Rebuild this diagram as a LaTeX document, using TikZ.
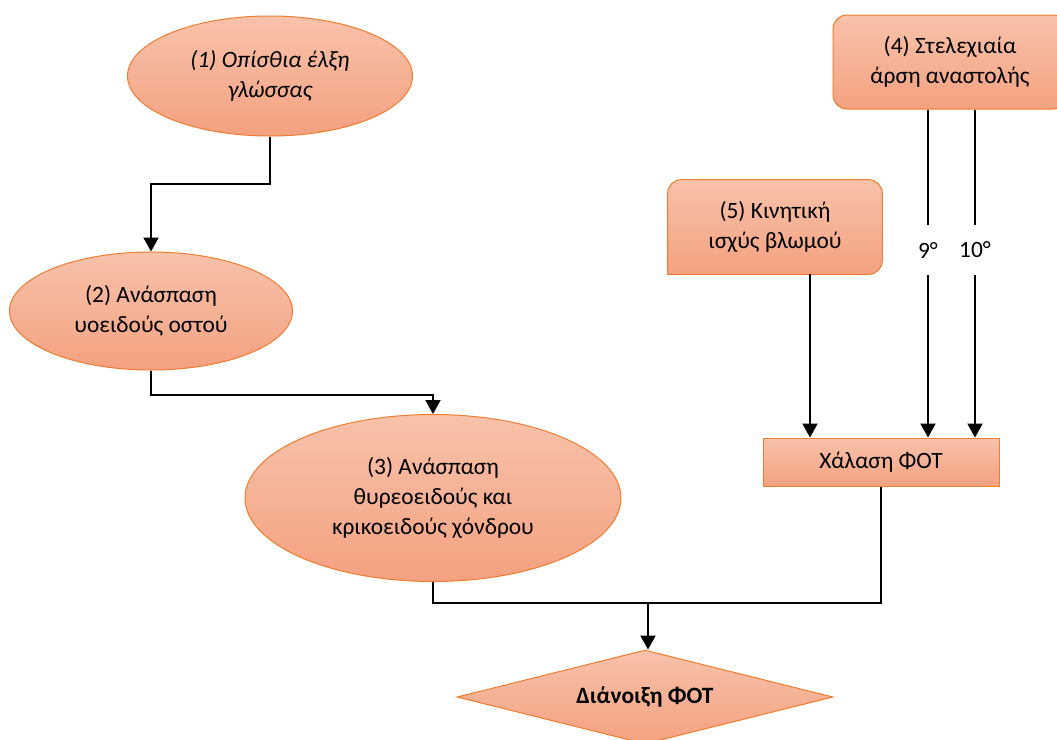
\documentclass[tikz,border=0pt]{standalone}
\usepackage{fontspec}
\setmainfont{Carlito}
\usetikzlibrary{shapes.geometric,arrows.meta,backgrounds}
\definecolor{rim}{RGB}{237,125,49}
\definecolor{lite}{RGB}{248,194,170}
\definecolor{dark}{RGB}{244,161,128}
\newcommand{\dsize}{\fontsize{11.7}{15}\selectfont}
\tikzset{
  shade box/.style={draw=rim, line width=0.5pt, top color=lite, bottom color=dark},
  oval/.style={shade box, ellipse, inner sep=0pt, align=center, font=\dsize},
  plate/.style={shade box, rectangle, inner sep=0pt, align=center, font=\dsize},
  bare/.style={rectangle, inner sep=0pt, align=center, font=\dsize},
  link/.style={line width=1pt},
  arr/.style={link, -{Triangle[width=7.5pt,length=7pt]}},
}
\begin{document}
\begin{tikzpicture}[x=0.5pt,y=-0.5pt]
      \clip (0,0) rectangle (1057,740);
      % causes
      \node[oval, minimum width=142.5pt, minimum height=60pt, font=\dsize\itshape] (e1) at (270,76) {(1) Οπίσθια έλξη\\γλώσσας};
      \node[oval, minimum width=141.5pt, minimum height=59pt] (e2) at (151,311) {(2) Ανάσπαση\\υοειδούς οστού};
      \node[oval, minimum width=188pt, minimum height=83.5pt] (e3) at (433,498) {(3) Ανάσπαση\\θυρεοειδούς και\\κρικοειδούς χόνδρου};
      \node[plate, rounded corners=7pt, minimum width=117pt, minimum height=47pt] (b4) at (950,62) {(4) Στελεχιαία\\άρση αναστολής};
      \node[bare, minimum width=107pt, minimum height=47pt] (b5) at (775,227) {(5) Κινητική\\ισχύς βλωμού};
      \begin{scope}[on background layer]
        \draw[shade box] (b5.south west) [rounded corners=7pt] -- (b5.north west) -- (b5.north east) -- (b5.south east) [sharp corners] -- cycle;
      \end{scope}
      \node[plate, minimum width=118pt, minimum height=24pt] (h) at (881,462) {Χάλαση ΦΟΤ};
      \node[shade box, diamond, aspect=4, inner sep=0pt, minimum width=188pt, minimum height=47pt, font=\dsize\bfseries] (d) at (645,697) {Διάνοιξη ΦΟΤ};
      % labels on the lines from (4)
      \node[font=\dsize, minimum height=25pt, inner sep=0pt] (l9) at (928,250) {9°};
      \node[font=\dsize, minimum height=25pt, inner sep=0pt] (l10) at (975,250) {10°};
      \coordinate (j) at (648,603);
      \begin{scope}
        \draw[arr] (e1.south) -- ++(0,47) -| (e2.north);
        \draw[arr] (e2.south) -- ++(0,24) -| (e3.north);
        \draw[link] (e3.south) |- (j) -| (h.south);
        \draw[arr] (j) -- (j |- d.north);
        \draw[arr] ([xshift=17.5pt]b5.south) -- ([xshift=17.5pt]b5.south |- h.north);
        \draw[link] (l9 |- b4.south) -- (l9);
        \draw[arr] (l9) -- (l9 |- h.north);
        \draw[link] (l10 |- b4.south) -- (l10);
        \draw[arr] (l10) -- (l10 |- h.north);
      \end{scope}
    \end{tikzpicture}
\end{document}
